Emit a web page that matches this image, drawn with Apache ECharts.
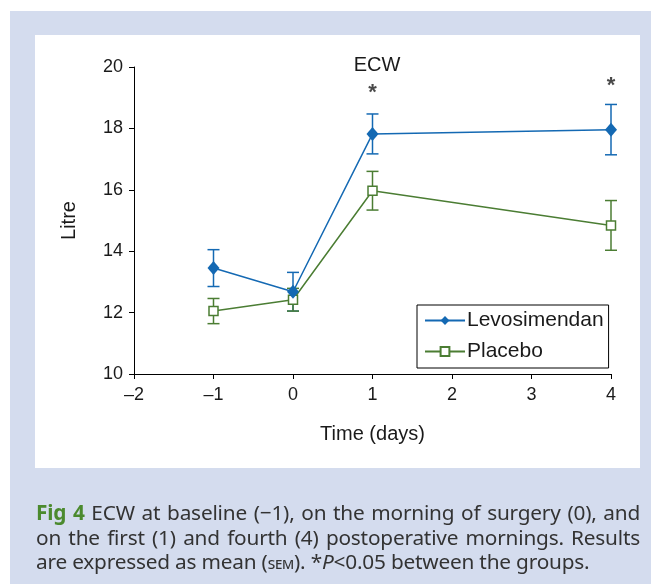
<!DOCTYPE html>
<html>
<head>
<meta charset="utf-8">
<script src="https://cdn.jsdelivr.net/npm/echarts@6/dist/echarts.min.js"></script>
<style>
  body { margin: 0; background: #fff; }
  #frame { position: absolute; left: 10px; top: 11px; width: 641px; height: 573px; background: #d4dcee; }
  #plate { position: absolute; left: 35px; top: 35px; width: 605px; height: 433px; background: #fff; }
  #main { position: absolute; left: 0; top: 0; width: 651px; height: 584px; }
  #caption { position: absolute; left: 36px; top: 500px; width: 604px; font-family: "Noto Sans"; font-size: 20.8px; line-height: 24.5px; color: #333; letter-spacing: -0.2px; }
  #caption .ln { white-space: nowrap; text-align: justify; text-align-last: justify; }
  #caption .ln.last { text-align-last: left; }
  #caption b { color: #4b8a2e; }
  #caption .sc { font-variant: small-caps; font-size: 16.5px; }
</style>
</head>
<body>
<div id="frame"></div>
<div id="plate"></div>
<div id="main"></div>
<div id="caption">
  <div class="ln"><b>Fig 4</b> ECW at baseline (−1), on the morning of surgery (0), and</div>
  <div class="ln">on the first (1) and fourth (4) postoperative mornings. Results</div>
  <div class="ln last">are expressed as mean (<span class="sc">sem</span>). *<i>P</i>&lt;0.05 between the groups.</div>
</div>
<script>
// data
var days = [-1, 0, 1, 4];
var levoMean = [13.45, 12.68, 17.82, 17.96];
var levoSem = [0.60, 0.63, 0.65, 0.82];
var placeboMean = [12.05, 12.42, 15.97, 14.84];
var placeboSem = [0.41, 0.37, 0.63, 0.81];
var sigDays = [1, 4];
var sigLevel = [19.15, 19.38];
var xMin = -2, xMax = 4, xStep = 1;
var yMin = 10, yMax = 20, yStep = 2;

var blue = '#1469b3';
var green = '#4b7d33';

var chart = echarts.init(document.getElementById('main'));

function pairs(mean) {
  return days.map(function (d, i) { return [d, mean[i]]; });
}

function errorBars(name, color, mean, sem) {
  return {
    name: name + ' sem',
    type: 'custom',
    z: 1,
    silent: true,
    encode: { x: 0, y: [1, 2] },
    data: days.map(function (d, i) { return [d, mean[i] - sem[i], mean[i] + sem[i]]; }),
    renderItem: function (params, api) {
      var top = api.coord([api.value(0), api.value(2)]);
      var bot = api.coord([api.value(0), api.value(1)]);
      var w = 6;
      var st = { stroke: color, lineWidth: 1.5 };
      return {
        type: 'group',
        children: [
          { type: 'line', shape: { x1: top[0], y1: top[1], x2: bot[0], y2: bot[1] }, style: st },
          { type: 'line', shape: { x1: top[0] - w, y1: top[1], x2: top[0] + w, y2: top[1] }, style: st },
          { type: 'line', shape: { x1: bot[0] - w, y1: bot[1], x2: bot[0] + w, y2: bot[1] }, style: st }
        ]
      };
    }
  };
}

var font = 'Liberation Sans';

var option = {
  animation: false,
  textStyle: { fontFamily: font },
  title: {
    text: 'ECW',
    left: 372,
    top: 50,
    textAlign: 'center',
    textStyle: { fontSize: 20, fontWeight: 'normal', color: '#1a1a1a', fontFamily: font }
  },
  grid: { left: 134, right: 40, top: 67, bottom: 210 },
  legend: {
    data: ['Levosimendan', 'Placebo'],
    orient: 'vertical',
    left: 417,
    top: 305,
    padding: [5, 5, 6, 7],
    itemGap: 10,
    itemWidth: 40,
    itemHeight: 11,
    borderColor: '#000',
    borderWidth: 1,
    borderRadius: 0,
    textStyle: { fontSize: 21, lineHeight: 20, color: '#1a1a1a', fontFamily: font, padding: [0, 0, 0, -3] }
  },
  xAxis: {
    type: 'value',
    min: xMin,
    max: xMax,
    interval: xStep,
    name: 'Time (days)',
    nameLocation: 'middle',
    nameGap: 50,
    nameTextStyle: { fontSize: 20, color: '#1a1a1a', fontFamily: font },
    splitLine: { show: false },
    axisLine: { onZero: false, lineStyle: { color: '#000', width: 1 } },
    axisTick: { show: true, length: 5, lineStyle: { color: '#000' } },
    axisLabel: {
      fontSize: 18, color: '#1a1a1a', margin: 12, fontFamily: font,
      formatter: function (v) { return String(v).replace('-', '\u2013'); }
    }
  },
  yAxis: {
    type: 'value',
    min: yMin,
    max: yMax,
    interval: yStep,
    name: 'Litre',
    nameLocation: 'middle',
    nameGap: 55,
    nameTextStyle: { fontSize: 20, color: '#1a1a1a', fontFamily: font },
    splitLine: { show: false },
    axisLine: { show: true, onZero: false, lineStyle: { color: '#000', width: 1 } },
    axisTick: { show: true, length: 5, lineStyle: { color: '#000' } },
    axisLabel: { fontSize: 18, color: '#1a1a1a', margin: 11, fontFamily: font }
  },
  series: [
    errorBars('Levosimendan', blue, levoMean, levoSem),
    errorBars('Placebo', green, placeboMean, placeboSem),
    {
      name: 'Placebo',
      type: 'line',
      z: 3,
      data: pairs(placeboMean),
      symbol: 'rect',
      symbolSize: 9,
      lineStyle: { color: green, width: 1.5 },
      itemStyle: { color: '#fff', borderColor: green, borderWidth: 1.5 }
    },
    {
      name: 'Levosimendan',
      type: 'line',
      z: 4,
      data: pairs(levoMean),
      symbol: 'diamond',
      symbolSize: [12, 14],
      lineStyle: { color: blue, width: 1.5 },
      itemStyle: { color: blue }
    },
    {
      name: 'significance',
      type: 'scatter',
      symbolSize: 1,
      itemStyle: { color: 'rgba(0,0,0,0)' },
      silent: true,
      data: sigDays.map(function (d, i) { return [d, sigLevel[i]]; }),
      label: {
        show: true,
        position: 'inside',
        formatter: '*',
        fontSize: 22,
        fontWeight: 'bold',
        color: '#1a1a1a',
        fontFamily: font
      }
    }
  ]
};

chart.setOption(option);
</script>
</body>
</html>
